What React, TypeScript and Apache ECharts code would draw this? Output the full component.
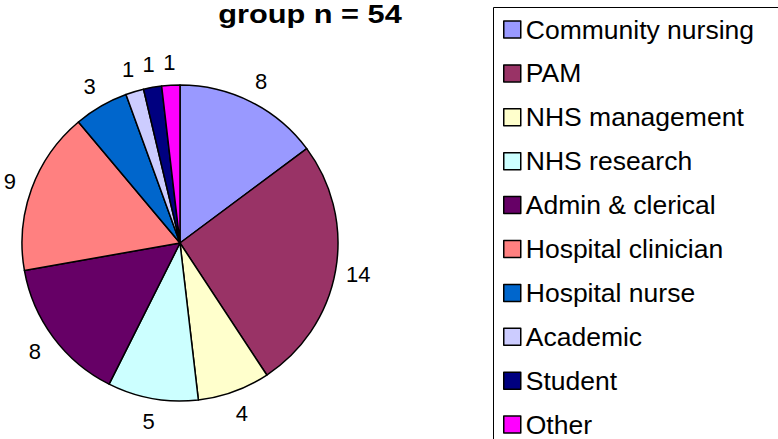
import React, { useEffect, useRef } from "react";
import * as echarts from "echarts";

const titleText = "group n = 54";
const categories = [
  "Community nursing",
  "PAM",
  "NHS management",
  "NHS research",
  "Admin & clerical",
  "Hospital clinician",
  "Hospital nurse",
  "Academic",
  "Student",
  "Other",
];
const values = [8, 14, 4, 5, 8, 9, 3, 1, 1, 1];
const colors = [
  "#9999FF",
  "#993366",
  "#FFFFCC",
  "#CCFFFF",
  "#660066",
  "#FF8080",
  "#0066CC",
  "#CCCCFF",
  "#000080",
  "#FF00FF",
];

const FONT = "'Liberation Sans', Arial, sans-serif";

export default function App() {
  const ref = useRef<HTMLDivElement>(null);
  useEffect(() => {
    if (!ref.current) return;
    const chart = echarts.init(ref.current, undefined, { renderer: "svg" });
    const data = categories.map((name, i) => ({
      name,
      value: values[i],
      itemStyle: { color: colors[i] },
    }));
    const labelData = categories.map((name, i) => ({ name, value: values[i] }));
    chart.setOption({
      animation: false,
      backgroundColor: "#ffffff",
      graphic: [
        {
          type: "text",
          x: 310,
          y: 14,
          scaleX: 1.16,
          style: {
            text: titleText,
            fontFamily: FONT,
            fontWeight: "bold",
            fontSize: 26.5,
            fill: "#000",
            align: "center",
            verticalAlign: "middle",
          },
        },
        {
          type: "rect",
          shape: { x: 493.5, y: 7.5, width: 300, height: 450 },
          style: { fill: "none", stroke: "#000", lineWidth: 1 },
          z: 0,
        },
      ],
      legend: {
        type: "plain",
        orient: "vertical",
        left: 503,
        top: 16,
        height: 600,
        width: 270,
        padding: 0,
        itemWidth: 17,
        itemHeight: 17,
        itemGap: 16.9,
        itemTextGap: 7,
        icon: "rect",
        selectedMode: false,
        itemStyle: { borderColor: "#000", borderWidth: 1.5 },
        textStyle: {
          fontFamily: FONT,
          fontSize: 26.5,
          color: "#000",
        },
        data: categories,
      },
      series: [
        {
          type: "pie",
          center: [180, 243],
          radius: 158,
          startAngle: 90,
          clockwise: true,
          silent: true,
          label: { show: false },
          labelLine: { show: false },
          itemStyle: { borderColor: "#000", borderWidth: 1.5 },
          data,
        },
        {
          type: "pie",
          center: [180, 243],
          radius: [163, 193],
          startAngle: 90,
          clockwise: true,
          silent: true,
          itemStyle: { color: "rgba(0,0,0,0)", borderWidth: 0 },
          label: {
            show: true,
            position: "inside",
            formatter: "{c}",
            fontFamily: FONT,
            fontSize: 22,
            color: "#000",
          },
          labelLine: { show: false },
          emphasis: { disabled: true },
          data: labelData,
        },
      ],
    });
    return () => chart.dispose();
  }, []);
  return (
    <div
      ref={ref}
      style={{ position: "fixed", left: 0, top: 0, width: 778, height: 439 }}
    />
  );
}
